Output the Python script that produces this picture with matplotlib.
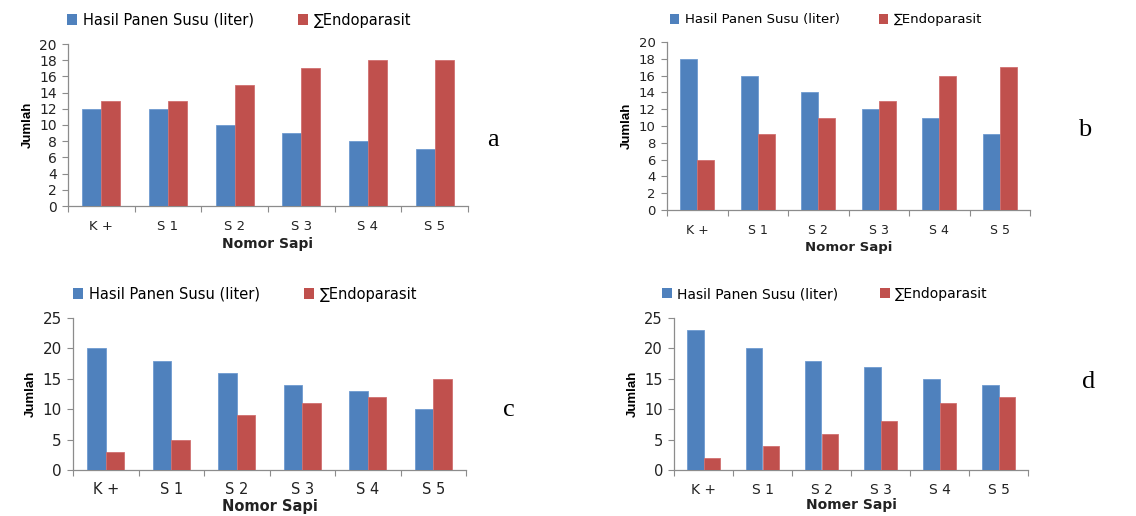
import matplotlib
matplotlib.use("Agg")
import matplotlib.pyplot as plt
import numpy as np
from matplotlib.patches import Patch

categories = ["K +", "S 1", "S 2", "S 3", "S 4", "S 5"]
series_names = ["Hasil Panen Susu (liter)", "\u2211Endoparasit"]

milk_a = [12, 12, 10, 9, 8, 7]
endo_a = [13, 13, 15, 17, 18, 18]
milk_b = [18, 16, 14, 12, 11, 9]
endo_b = [6, 9, 11, 13, 16, 17]
milk_c = [20, 18, 16, 14, 13, 10]
endo_c = [3, 5, 9, 11, 12, 15]
milk_d = [23, 20, 18, 17, 15, 14]
endo_d = [2, 4, 6, 8, 11, 12]

xlabels = ["Nomor Sapi", "Nomor Sapi", "Nomor Sapi", "Nomer Sapi"]
panel_letters = ["a", "b", "c", "d"]

BLUE = "#4F81BD"
RED = "#C0504D"
AXC = "#8C8C8C"

W, H = 1136, 516
fig = plt.figure(figsize=(W / 100, H / 100), dpi=100)
fig.patch.set_facecolor("white")

panels = [
    dict(milk=milk_a, endo=endo_a, l=68, r=468, t=44, b=206, ymax=20, step=2, tfs=10, lfs=10.5, xfs=10,
         lgx=67, lgy=20, cs=3.0, ltx=487, lty=140, tpad=10, xlp=3),
    dict(milk=milk_b, endo=endo_b, l=667, r=1030, t=42, b=210, ymax=20, step=2, tfs=9.5, lfs=9.5, xfs=9.5,
         lgx=670, lgy=20, cs=3.0, ltx=1078, lty=130, tpad=10, xlp=3),
    dict(milk=milk_c, endo=endo_c, l=73, r=466, t=318, b=470, ymax=25, step=5, tfs=11, lfs=10.5, xfs=10.5,
         lgx=73, lgy=294, cs=3.0, ltx=503, lty=410, tpad=9, xlp=1),
    dict(milk=milk_d, endo=endo_d, l=674, r=1028, t=318, b=470, ymax=25, step=5, tfs=10.5, lfs=10, xfs=10,
         lgx=662, lgy=294, cs=3.0, ltx=1082, lty=382, tpad=9, xlp=1),
]

x = np.arange(len(categories))
bw = 0.285

for i, p in enumerate(panels):
    ax = fig.add_axes([p["l"] / W, 1 - p["b"] / H, (p["r"] - p["l"]) / W, (p["b"] - p["t"]) / H])
    ax.bar(x - bw / 2, p["milk"], width=bw, color=BLUE, edgecolor="#6F9AD0", linewidth=0.6, zorder=3)
    ax.bar(x + bw / 2, p["endo"], width=bw, color=RED, edgecolor="#D07070", linewidth=0.6, zorder=3)
    ax.set_xlim(-0.5, len(categories) - 0.5)
    ax.set_ylim(0, p["ymax"])
    ax.set_yticks(np.arange(0, p["ymax"] + 0.1, p["step"]))
    ax.set_xticks(x)
    ax.set_xticklabels(categories, fontsize=p["tfs"] - 0.5, color="#222222")
    ax.set_xticks(np.arange(-0.5, len(categories)), minor=True)
    ax.tick_params(axis="x", which="major", length=0, pad=p["tpad"])
    ax.tick_params(axis="x", which="minor", length=4, color=AXC, width=0.8)
    ax.tick_params(axis="y", length=4, color=AXC, width=0.8, labelsize=p["tfs"], labelcolor="#222222", pad=4)
    for s in ["top", "right"]:
        ax.spines[s].set_visible(False)
    for s in ["left", "bottom"]:
        ax.spines[s].set_color(AXC)
        ax.spines[s].set_linewidth(0.9)
    ax.set_xlabel(xlabels[i], fontsize=p["xfs"], fontweight="bold", labelpad=p["xlp"], color="#222222")
    ax.set_ylabel("Jumlah", fontsize=9.5, fontweight="bold",
                  family=["Liberation Sans Narrow", "Liberation Sans", "DejaVu Sans"], labelpad=4)
    handles = [Patch(facecolor=BLUE), Patch(facecolor=RED)]
    fig.legend(handles, series_names, loc="center left",
               bbox_to_anchor=(p["lgx"] / W, 1 - p["lgy"] / H), frameon=False,
               ncol=2, fontsize=p["lfs"], handlelength=0.7, handleheight=0.7,
               handletextpad=0.4, columnspacing=p["cs"], borderaxespad=0, borderpad=0)
    fig.text(p["ltx"] / W, 1 - p["lty"] / H, panel_letters[i], fontsize=19,
             family=["Liberation Serif", "DejaVu Serif"], ha="left", va="center")

fig.savefig("out.png", dpi=100, facecolor="white")
